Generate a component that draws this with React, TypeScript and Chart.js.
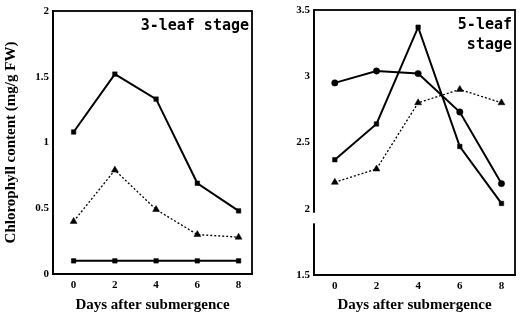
import React, { useEffect, useRef } from "react";
import { Chart, registerables } from "chart.js";

Chart.register(...registerables);

const days = [0, 2, 4, 6, 8];
const xTicks = [0, 2, 4, 6, 8];

// 3-leaf stage
const leaf3Top = [1.08, 1.52, 1.33, 0.69, 0.48];
const leaf3Tri = [0.4, 0.79, 0.49, 0.3, 0.28];
const leaf3Bottom = [0.1, 0.1, 0.1, 0.1, 0.1];
const leaf3YTicks = [0, 0.5, 1, 1.5, 2];
const leaf3YLabels = ["0", "0.5", "1", "1.5", "2"];

// 5-leaf stage
const leaf5Circle = [2.95, 3.04, 3.02, 2.73, 2.19];
const leaf5Square = [2.37, 2.64, 3.37, 2.47, 2.04];
const leaf5Tri = [2.2, 2.3, 2.8, 2.9, 2.8];
const leaf5YTicks = [1.5, 2, 2.5, 3, 3.5];
const leaf5YLabels = ["1.5", "2", "2.5", "3", "3.5"];

const xTitle = "Days after submergence";
const yTitle = "Chlorophyll content (mg/g FW)";

const serif = "'Liberation Serif', 'DejaVu Serif', serif";
const mono = "'DejaVu Sans Mono', 'Liberation Mono', monospace";

type Cfg = {
  series: { data: number[]; style: "square" | "tri" | "circle"; dotted?: boolean }[];
  yMin: number;
  yMax: number;
  yTicks: number[];
  yLabels: string[];
  label: string[];
  showYTitle: boolean;
  plotLeft: number;
  plotTop: number;
  plotBottom: number;
  breakAt?: [number, number];
};

function makeChart(canvas: HTMLCanvasElement, cfg: Cfg) {
  const H = 323;
  const padRight = 11;
  const framePlugin = {
    id: "frame",
    afterDatasetsDraw(chart: any) {
      const { ctx, chartArea } = chart;
      ctx.save();
      ctx.strokeStyle = "#000";
      ctx.lineWidth = 1.8;
      ctx.strokeRect(chartArea.left, chartArea.top, chartArea.right - chartArea.left, chartArea.bottom - chartArea.top);
      if (cfg.breakAt) {
        const ys = chart.scales.y;
        const y1 = ys.getPixelForValue(cfg.breakAt[0]);
        const y2 = ys.getPixelForValue(cfg.breakAt[1]);
        ctx.fillStyle = "#fff";
        ctx.fillRect(chartArea.left - 2, y1, 4, y2 - y1);
      }
      ctx.fillStyle = "#000";
      ctx.font = "bold 15px " + mono;
      ctx.textAlign = "right";
      ctx.textBaseline = "middle";
      cfg.label.forEach((t, i) => {
        ctx.fillText(t, chartArea.right - 3, chartArea.top + 15 + i * 20);
      });
      ctx.restore();
    },
  };

  const datasets = cfg.series.map((s) => ({
    data: s.data.map((v, i) => ({ x: days[i], y: v })),
    borderColor: "#000",
    backgroundColor: "#000",
    borderWidth: s.dotted ? 1.3 : 2,
    borderDash: s.dotted ? [2, 2] : [],
    pointStyle: s.style === "square" ? "rect" : s.style === "tri" ? "triangle" : "circle",
    pointRadius: s.style === "tri" ? 4 : 3.2,
    pointBackgroundColor: "#000",
    pointBorderColor: "#000",
    pointBorderWidth: 0.5,
    tension: 0,
    fill: false,
  }));

  return new Chart(canvas, {
    type: "line",
    data: { datasets },
    plugins: [framePlugin],
    options: {
      responsive: false,
      animation: false,
      layout: { padding: { left: 0, right: padRight, top: cfg.plotTop, bottom: 4 } },
      plugins: { legend: { display: false }, tooltip: { enabled: false } },
      scales: {
        x: {
          type: "linear",
          min: -1,
          max: 8.65,
          afterBuildTicks: (s: any) => {
            s.ticks = xTicks.map((v) => ({ value: v }));
          },
          afterFit: (s: any) => {
            s.height = H - 4 - cfg.plotBottom;
          },
          grid: { display: false, drawTicks: true, tickLength: 3, color: "#000" },
          border: { display: true, color: "#000", width: 1.8 },
          ticks: {
            color: "#000",
            font: { family: serif, size: 11, weight: "bold" },
            padding: 2,
            callback: (v: any) => String(v),
          },
          title: {
            display: true,
            text: xTitle,
            color: "#000",
            font: { family: serif, size: 15, weight: "bold" },
            padding: { top: 0, bottom: 5 },
          },
        },
        y: {
          type: "linear",
          min: cfg.yMin,
          max: cfg.yMax,
          afterBuildTicks: (s: any) => {
            s.ticks = cfg.yTicks.map((v) => ({ value: v }));
          },
          afterFit: (s: any) => {
            s.width = cfg.plotLeft;
          },
          grid: { display: false, drawTicks: true, tickLength: 3, color: "#000" },
          border: { display: true, color: "#000", width: 1.8 },
          ticks: {
            color: "#000",
            font: { family: serif, size: 11, weight: "bold" },
            padding: 1,
            callback: (v: any) => {
              const i = cfg.yTicks.indexOf(v);
              return i >= 0 ? cfg.yLabels[i] : "";
            },
          },
          title: {
            display: cfg.showYTitle,
            text: yTitle,
            color: "#000",
            font: { family: serif, size: 15, weight: "bold" },
            padding: { top: 2, bottom: 0 },
          },
        },
      },
    },
  } as any);
}

export default function App() {
  const leftRef = useRef<HTMLCanvasElement>(null);
  const rightRef = useRef<HTMLCanvasElement>(null);

  useEffect(() => {
    const a = makeChart(leftRef.current!, {
      series: [
        { data: leaf3Top, style: "square" },
        { data: leaf3Tri, style: "tri", dotted: true },
        { data: leaf3Bottom, style: "square" },
      ],
      yMin: 0,
      yMax: 2,
      yTicks: leaf3YTicks,
      yLabels: leaf3YLabels,
      label: ["3-leaf stage"],
      showYTitle: true,
      plotLeft: 53,
      plotTop: 11,
      plotBottom: 274,
    });
    const b = makeChart(rightRef.current!, {
      series: [
        { data: leaf5Circle, style: "circle" },
        { data: leaf5Square, style: "square" },
        { data: leaf5Tri, style: "tri", dotted: true },
      ],
      yMin: 1.5,
      yMax: 3.5,
      yTicks: leaf5YTicks,
      yLabels: leaf5YLabels,
      label: ["5-leaf", "stage"],
      showYTitle: false,
      plotLeft: 51,
      plotTop: 10,
      plotBottom: 275,
      breakAt: [1.97, 1.89],
    });
    return () => {
      a.destroy();
      b.destroy();
    };
  }, []);

  return (
    <div style={{ position: "fixed", left: 0, top: 0, width: 526, height: 323, background: "#fff", display: "flex" }}>
      <canvas ref={leftRef} width={263} height={323} style={{ width: 263, height: 323, display: "block" }} />
      <canvas ref={rightRef} width={263} height={323} style={{ width: 263, height: 323, display: "block" }} />
    </div>
  );
}
